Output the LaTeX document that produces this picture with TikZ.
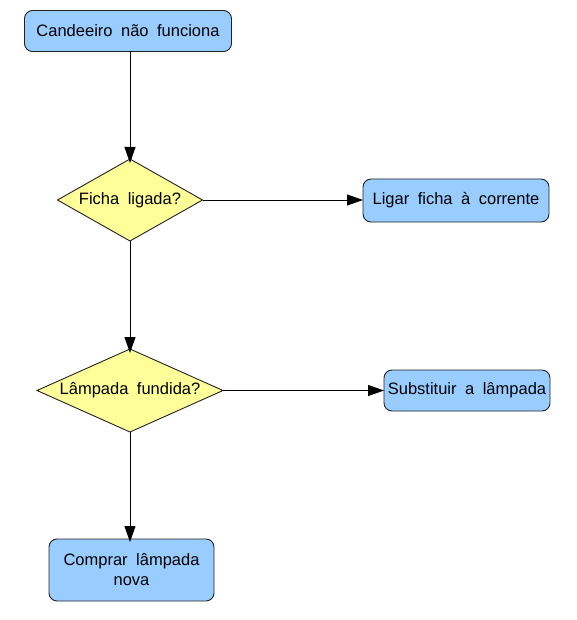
\documentclass[tikz,border=0pt]{standalone}
\usepackage{fontspec}
\setmainfont{Liberation Sans}
\usetikzlibrary{shapes.geometric,arrows.meta}
\definecolor{boxblue}{HTML}{99CCFF}
\definecolor{diayellow}{HTML}{FFFF99}
\definecolor{edge}{HTML}{222222}
\tikzset{
  txt/.style={font={\fontsize{16.5}{20}\selectfont\spaceskip=8.5pt\relax}},
  stepbox/.style={draw=edge, fill=boxblue, rounded corners=8pt, line width=0.9pt,
    inner sep=0pt, outer sep=0pt, align=center, txt},
  decision/.style={draw=edge, fill=diayellow, diamond, line width=0.9pt,
    inner sep=0pt, outer sep=0pt, txt},
  flow/.style={line width=0.9pt, -{Triangle[length=16pt,width=11pt]}}
}
\begin{document}
\begin{tikzpicture}[x=1pt,y=-1pt]
\useasboundingbox (0,0) rectangle (576,620);
\node[stepbox, minimum width=207pt, minimum height=41pt] (b1) at (128,31) {Candeeiro não funciona};
\node[decision, minimum width=145pt, minimum height=82pt, aspect=1.77] (d1) at (130,200) {Ficha ligada?};
\node[stepbox, minimum width=186pt, minimum height=43pt] (b2) at (456,200.5) {Ligar ficha à corrente};
\node[decision, minimum width=186pt, minimum height=83pt, aspect=2.24] (d2) at (130,390.5) {Lâmpada fundida?};
\node[stepbox, minimum width=166pt, minimum height=41pt] (b3) at (467,390.5) {Substituir a lâmpada};
\node[stepbox, minimum width=165pt, minimum height=62pt] (b4) at (131.5,570) {Comprar lâmpada\\nova};
\draw[flow] (d1.north |- b1.south) -- ([yshift=-4pt]d1.north);
\draw[flow] (d1.east) -- (b2.west |- d1.east);
\draw[flow] (d1.south) -- ([yshift=-4pt]d2.north);
\draw[flow] (d2.east) -- (b3.west |- d2.east);
\draw[flow] (d2.south) -- ([yshift=-3pt]d2.south |- b4.north);
\end{tikzpicture}
\end{document}
